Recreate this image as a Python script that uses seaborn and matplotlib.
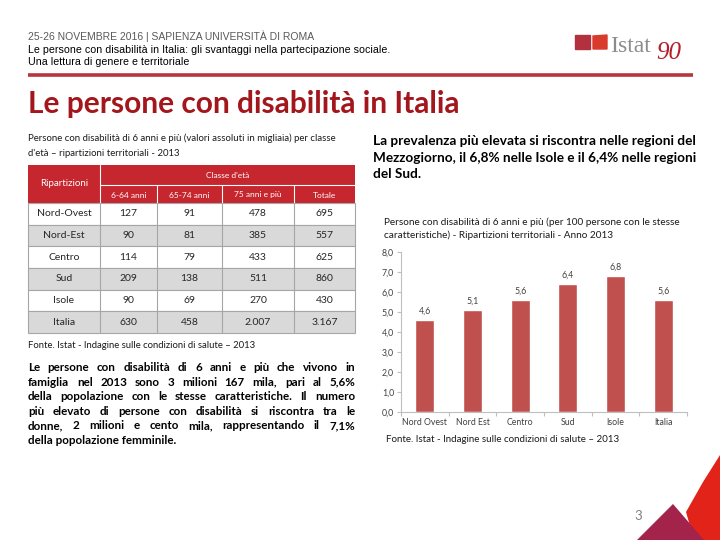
import numpy as np
import pandas as pd
import matplotlib
matplotlib.use("Agg")
import matplotlib.pyplot as plt
import seaborn as sns
from matplotlib.patches import Rectangle, Polygon
from matplotlib.ticker import FuncFormatter

# tabella: persone con disabilita' (migliaia) per classe d'eta'
ripartizioni = ["Nord-Ovest", "Nord-Est", "Centro", "Sud", "Isole", "Italia"]
classi_eta = ["6-64 anni", "65-74 anni", "75 anni e più", "Totale"]
anni_6_64 = [127, 90, 114, 209, 90, 630]
anni_65_74 = [91, 81, 79, 138, 69, 458]
anni_75_piu = [478, 385, 433, 511, 270, 2007]
totale = [695, 557, 625, 860, 430, 3167]

# grafico: per 100 persone con le stesse caratteristiche
aree = ["Nord Ovest", "Nord Est", "Centro", "Sud", "Isole", "Italia"]
prevalenza = [4.6, 5.1, 5.6, 6.4, 6.8, 5.6]

paragrafo = [
    "Le persone con disabilità di 6 anni e più che vivono in",
    "famiglia nel 2013 sono 3 milioni 167 mila, pari al 5,6%",
    "della popolazione con le stesse caratteristiche. Il numero",
    "più elevato di persone con disabilità si riscontra tra le",
    "donne, 2 milioni e cento mila, rappresentando il 7,1%",
    "della popolazione femminile.",
]
nota_destra = [
    "La prevalenza più elevata si riscontra nelle regioni del",
    "Mezzogiorno, il 6,8% nelle Isole e il 6,4% nelle regioni",
    "del Sud.",
]

sns.set_style("white")
plt.rcParams['font.family'] = ['Lato', 'DejaVu Sans']

ROSSO = "#c0504d"
ROSSO_TAB = "#c6262e"
ROSSO_TIT = "#a3161c"

fig = plt.figure(figsize=(7.2, 5.4), dpi=100)
ax0 = fig.add_axes([0, 0, 1, 1])
ax0.set_xlim(0, 720)
ax0.set_ylim(540, 0)
ax0.axis("off")

def it(v):
    return f"{v:,}".replace(",", ".")

def dec(v):
    return f"{v:.1f}".replace(".", ",")

# intestazione
ax0.text(28, 36, "25-26 NOVEMBRE 2016 | SAPIENZA UNIVERSITÀ DI ROMA", family="Liberation Sans",
         fontsize=7.5, color="#595959", va="center")
ax0.text(28, 50, "Le persone con disabilità in Italia: gli svantaggi nella partecipazione sociale.",
         family="Liberation Sans", fontsize=7.7, color="black", va="center")
ax0.text(28, 62, "Una lettura di genere e territoriale", family="Liberation Sans",
         fontsize=7.7, color="black", va="center")
ax0.plot([28, 693], [75, 75], color="#b5373e", lw=2.6, solid_capstyle="butt")

# logo
ax0.add_patch(Rectangle((575, 35), 15, 14, color="#b3303f"))
ax0.add_patch(Polygon([(593, 36), (607, 35), (607, 49), (593, 49)], closed=True, color="#d83a2c"))
ax0.text(610, 46, "Istat", family="Liberation Serif", fontsize=17, color="#8c8c8c", va="center")
ax0.text(656, 53, "90", family="Liberation Serif", style="italic", fontsize=18, color="#b3202a", va="center")

# titolo
ax0.text(28, 104, "Le persone con disabilità in Italia", fontsize=21.5, weight="bold",
         color=ROSSO_TIT, va="center")

# didascalia tabella
ax0.text(28, 138, "Persone con disabilità di 6 anni e più (valori assoluti in migliaia) per classe",
         fontsize=6.9, va="center", color="#1a1a1a")
ax0.text(28, 153, "d'età – ripartizioni territoriali - 2013", fontsize=6.9, va="center", color="#1a1a1a")

# tabella
xs = [28, 100, 157, 222, 294, 355]
y_top, y_mid, y_bot = 165, 185, 203
h = (333 - y_bot) / len(ripartizioni)
ax0.add_patch(Rectangle((xs[0], y_top), xs[-1] - xs[0], y_bot - y_top, color=ROSSO_TAB, lw=0))
ax0.plot([xs[1], xs[1]], [y_top, y_bot], color="white", lw=0.8)
ax0.plot([xs[1], xs[-1]], [y_mid, y_mid], color="white", lw=0.8)
for x in xs[2:-1]:
    ax0.plot([x, x], [y_mid, y_bot], color="white", lw=0.8)
ax0.text((xs[0] + xs[1]) / 2, (y_top + y_bot) / 2, "Ripartizioni", color="white",
         fontsize=7, ha="center", va="center")
ax0.text((xs[1] + xs[-1]) / 2, (y_top + y_mid) / 2, "Classe d'età", color="white",
         fontsize=6, ha="center", va="center")
for j, c in enumerate(classi_eta):
    ax0.text((xs[j + 1] + xs[j + 2]) / 2, (y_mid + y_bot) / 2 + 1, c, color="white",
             fontsize=6, ha="center", va="center")

colonne = [anni_6_64, anni_65_74, anni_75_piu, totale]
for i, r in enumerate(ripartizioni):
    y0 = y_bot + i * h
    fondo = "#d9d9d9" if i % 2 == 1 else "white"
    ax0.add_patch(Rectangle((xs[0], y0), xs[-1] - xs[0], h, facecolor=fondo,
                            edgecolor="#a6a6a6", lw=0.8))
    for x in xs[1:-1]:
        ax0.plot([x, x], [y0, y0 + h], color="#a6a6a6", lw=0.8)
    ax0.text((xs[0] + xs[1]) / 2, y0 + h / 2, r, fontsize=7.5, ha="center", va="center", color="#262626")
    for j, col in enumerate(colonne):
        ax0.text((xs[j + 1] + xs[j + 2]) / 2, y0 + h / 2, it(col[i]), fontsize=7.5,
                 ha="center", va="center", color="#262626")

ax0.text(28, 345, "Fonte. Istat - Indagine sulle condizioni di salute – 2013", fontsize=6.8,
         va="center", color="#1a1a1a")

# paragrafo giustificato
renderer = fig.canvas.get_renderer()

def giustifica(righe, x0, x1, y0, dy, **kw):
    for i, riga in enumerate(righe):
        y = y0 + i * dy
        if i == len(righe) - 1:
            ax0.text(x0, y, riga, va="baseline", **kw)
            continue
        parole = riga.split()
        tt = [ax0.text(0, y, p, va="baseline", **kw) for p in parole]
        larg = [t.get_window_extent(renderer).width for t in tt]
        gap = (x1 - x0 - sum(larg)) / (len(parole) - 1)
        x = x0
        for t, w in zip(tt, larg):
            t.set_x(x)
            x += w + gap

giustifica(paragrafo, 28, 355, 371, 14.6, fontsize=8.4, weight="bold", color="black")

for i, riga in enumerate(nota_destra):
    ax0.text(373, 145 + i * 16.5, riga, fontsize=9.8, weight="bold", va="baseline", color="black")

ax0.text(384, 222, "Persone con disabilità di 6 anni e più (per 100 persone con le stesse",
         fontsize=7.2, va="center", color="#1a1a1a")
ax0.text(384, 235, "caratteristiche) - Ripartizioni territoriali - Anno 2013",
         fontsize=7.2, va="center", color="#1a1a1a")
ax0.text(386, 440, "Fonte. Istat - Indagine sulle condizioni di salute – 2013", fontsize=7,
         va="center", color="#1a1a1a")

# decorazione e numero pagina
ax0.add_patch(Polygon([(720, 455), (703, 482), (686, 512), (694, 540), (720, 540)],
                      closed=True, color="#e2231a", lw=0))
ax0.add_patch(Polygon([(637, 540), (673, 504), (704, 540)], closed=True, color="#a3234a", lw=0))
ax0.text(638, 516, "3", fontsize=9.5, color="#808080", ha="center", va="center")

# grafico a barre
df = pd.DataFrame({"area": aree, "valore": prevalenza})
axb = fig.add_axes([401 / 720, (540 - 412) / 540, (687 - 401) / 720, 160 / 540])
sns.barplot(data=df, x="area", y="valore", color=ROSSO, saturation=1, width=0.4, ax=axb)
axb.set_ylim(0, 8)
axb.set_xlim(-0.5, len(aree) - 0.5)
axb.set_yticks(np.arange(0, 9, 1))
axb.yaxis.set_major_formatter(FuncFormatter(lambda v, p: dec(v)))
axb.bar_label(axb.containers[0], labels=[dec(v) for v in prevalenza], padding=3,
              fontsize=6.3, color="#404040")
axb.set_xlabel("")
axb.set_ylabel("")
axb.set_facecolor("none")
for s in ["top", "right"]:
    axb.spines[s].set_visible(False)
for s in ["left", "bottom"]:
    axb.spines[s].set_color("#bfbfbf")
    axb.spines[s].set_linewidth(0.8)
axb.tick_params(axis="y", length=3, width=0.8, color="#bfbfbf", labelsize=6.3,
                labelcolor="#404040", pad=2, left=True)
axb.tick_params(axis="x", length=0, labelsize=6.3, labelcolor="#404040", pad=4)
axb.set_xticks(np.arange(-0.5, len(aree), 1), minor=True)
axb.tick_params(axis="x", which="minor", length=3, width=0.8, color="#bfbfbf", bottom=True)

fig.savefig("out.png", dpi=100)
